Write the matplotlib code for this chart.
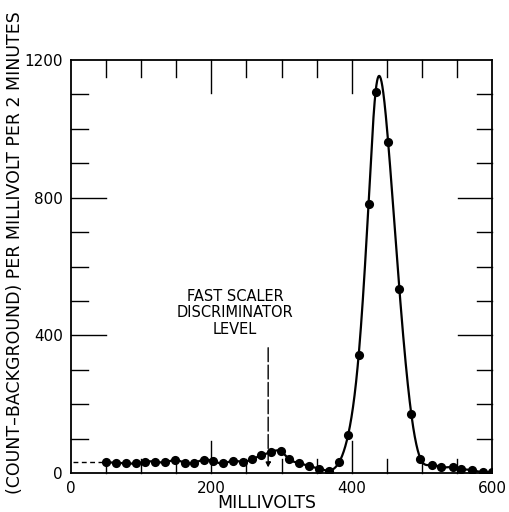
import numpy as np
import matplotlib
matplotlib.use("Agg")
import matplotlib.pyplot as plt

# ---- data ----
millivolts = [50, 64, 78, 92, 106, 120, 134, 148, 162, 176, 190, 203, 217, 231,
              245, 258, 271, 285, 299, 311, 325, 339, 354, 368, 382, 395, 410,
              424, 434, 452, 468, 485, 498, 514, 528, 544, 556, 572, 587, 600]
counts = [31, 30, 28, 28, 33, 33, 31, 38, 30, 30, 39, 34, 28, 36,
          32, 40, 51, 61, 63, 40, 29, 20, 13, 7, 31, 111, 343,
          781, 1106, 961, 534, 171, 42, 24, 17, 17, 12, 8, 2, 3]

x_ticks = [0, 200, 400, 600]
y_ticks = [0, 400, 800, 1200]
x_label = "MILLIVOLTS"
y_label = "(COUNT\u2013BACKGROUND) PER MILLIVOLT PER 2 MINUTES"
annot_lines = ["FAST SCALER", "DISCRIMINATOR", "LEVEL"]
disc_level = 281
baseline_level = 31


def natural_spline(x, y, n=2000):
    x = np.asarray(x, float)
    y = np.asarray(y, float)
    m = len(x)
    h = np.diff(x)
    A = np.zeros((m, m))
    b = np.zeros(m)
    A[0, 0] = 1
    A[-1, -1] = 1
    for i in range(1, m - 1):
        A[i, i - 1] = h[i - 1]
        A[i, i] = 2 * (h[i - 1] + h[i])
        A[i, i + 1] = h[i]
        b[i] = 6 * ((y[i + 1] - y[i]) / h[i] - (y[i] - y[i - 1]) / h[i - 1])
    M = np.linalg.solve(A, b)
    xs = np.linspace(x[0], x[-1], n)
    idx = np.clip(np.searchsorted(x, xs) - 1, 0, m - 2)
    x0, x1 = x[idx], x[idx + 1]
    hh = x1 - x0
    t0 = x1 - xs
    t1 = xs - x0
    ys = (M[idx] * t0 ** 3 / (6 * hh) + M[idx + 1] * t1 ** 3 / (6 * hh)
          + (y[idx] / hh - M[idx] * hh / 6) * t0
          + (y[idx + 1] / hh - M[idx + 1] * hh / 6) * t1)
    return xs, ys


plt.rcParams['font.family'] = ['DejaVu Sans']
fig = plt.figure(figsize=(5.1, 5.12), dpi=100)
ax = fig.add_axes([71 / 510, 1 - 473 / 512, (492 - 71) / 510, (473 - 60) / 512])

xs, ys = natural_spline(millivolts, counts)
ax.plot(xs, ys, color='black', lw=1.6, zorder=3)
ax.plot(millivolts, counts, 'o', color='black', ms=6.6, mew=0, zorder=4)

# dashed baseline extension to the left
ax.plot([3, millivolts[0]], [baseline_level, baseline_level], color='black',
        lw=1.0, dashes=(3.5, 2.5))

# discriminator level dashed arrow
ax.annotate("", xy=(disc_level, 8), xytext=(disc_level, 372),
            arrowprops=dict(arrowstyle='-|>', color='black', lw=1.0,
                            linestyle=(0, (10, 2.5)), mutation_scale=7))
for i, line in enumerate(annot_lines):
    ax.text(234, 512 - i * 47, line, ha='center', va='center', fontsize=10.5)

ax.set_xlim(0, 600)
ax.set_ylim(0, 1200)
ax.set_xticks(x_ticks)
ax.set_yticks(y_ticks)
ax.set_xticklabels([str(v) for v in x_ticks], fontsize=11)
ax.set_yticklabels([str(v) for v in y_ticks], fontsize=11)
ax.tick_params(axis='both', direction='in', length=0, pad=6)

for s in ax.spines.values():
    s.set_linewidth(1.3)

# hand-drawn style inward ticks
minor_x = np.arange(50, 600, 50)
major_x = [200, 400]
minor_y = np.arange(100, 1200, 100)
major_y = [400, 800]
tx = ax.get_xaxis_transform()
ty = ax.get_yaxis_transform()
px_y = 1 / (473 - 60)
px_x = 1 / (492 - 71)
for v in minor_x:
    L = 32 if v in major_x else 14
    ax.plot([v, v], [0, L * px_y], transform=tx, color='black', lw=1.0, clip_on=False)
    ax.plot([v, v], [1, 1 - (33 if v in major_x else 17) * px_y], transform=tx,
            color='black', lw=1.0, clip_on=False)
for v in minor_y:
    L = 35 if v in major_y else 17
    ax.plot([0, L * px_x], [v, v], transform=ty, color='black', lw=1.0, clip_on=False)
    ax.plot([1, 1 - (34 if v in major_y else 15) * px_x], [v, v], transform=ty,
            color='black', lw=1.0, clip_on=False)

fig.text(267 / 510, 1 - 508 / 512, x_label, ha='center', va='baseline', fontsize=12.5)
fig.text(15 / 510, 1 - 253 / 512, y_label, rotation=90, ha='center', va='center',
         fontsize=12.5)

fig.savefig("out.png", dpi=100)
